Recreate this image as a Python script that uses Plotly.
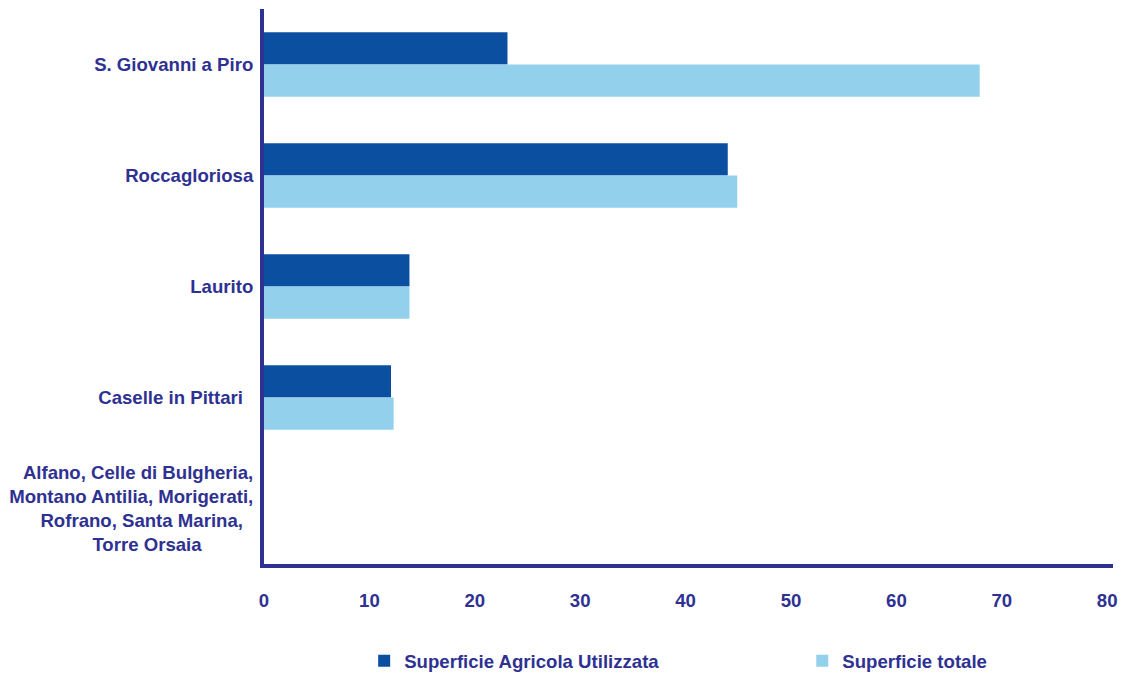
import plotly.graph_objects as go

# Comuni (top to bottom) and surfaces in hectares
comuni = [
    "S. Giovanni a Piro",
    "Roccagloriosa",
    "Laurito",
    "Caselle in Pittari",
    "Alfano, Celle di Bulgheria,<br>Montano Antilia, Morigerati,<br>Rofrano, Santa Marina,<br>Torre Orsaia",
]
sau = [23.1, 44.0, 13.8, 12.05, 0]
sup_totale = [67.9, 44.9, 13.8, 12.3, 0]

x_ticks = [0, 10, 20, 30, 40, 50, 60, 70, 80]

NAVY = "#2E3192"
DARK = "#0B4FA1"
LIGHT = "#93D0EC"
FONT = "Liberation Sans"
FS = 18.6
NB = "\u00a0"

# tick labels: centred look for the stacked label, trailing space on Caselle
ticktext = [
    comuni[0],
    comuni[1],
    comuni[2],
    comuni[3] + NB * 2,
    "Alfano, Celle di Bulgheria,<br>Montano Antilia, Morigerati,<br>Rofrano, Santa Marina," + NB * 2
    + "<br>Torre Orsaia" + NB * 10,
]

fig = go.Figure()
fig.add_trace(go.Bar(
    y=comuni, x=sau, orientation="h", name="Superficie Agricola Utilizzata",
    marker=dict(color=DARK, line=dict(width=0)), legend="legend", showlegend=True,
))
fig.add_trace(go.Bar(
    y=comuni, x=sup_totale, orientation="h", name="Superficie totale",
    marker=dict(color=LIGHT, line=dict(width=0)), legend="legend2", showlegend=True,
))

legend_font = dict(family=FONT, size=FS, color=NAVY, weight="bold")

fig.update_layout(
    width=1123, height=675,
    margin=dict(l=264, r=10, t=9, b=111, autoexpand=False),
    paper_bgcolor="white", plot_bgcolor="white",
    showlegend=True,
    barmode="group", bargap=0.42, bargroupgap=0,
    font=dict(family=FONT, size=FS, color=NAVY, weight="bold"),
    legend=dict(x=0.118, y=-0.175, xanchor="left", yanchor="middle",
                orientation="h", font=legend_font, bgcolor="rgba(0,0,0,0)"),
    legend2=dict(x=0.634, y=-0.175, xanchor="left", yanchor="middle",
                 orientation="h", font=legend_font, bgcolor="rgba(0,0,0,0)"),
    xaxis=dict(
        range=[0, 80.55], tickvals=x_ticks, ticktext=[str(v) for v in x_ticks],
        showgrid=False, zeroline=False, showline=True, linecolor=NAVY, linewidth=4,
        ticks="", ticklabelstandoff=17,
        tickfont=dict(family=FONT, size=FS, color=NAVY, weight="bold"),
    ),
    yaxis=dict(
        categoryorder="array", categoryarray=comuni, autorange="reversed",
        tickvals=comuni, ticktext=ticktext,
        showgrid=False, zeroline=False, showline=True, linecolor=NAVY, linewidth=4,
        ticks="", ticklabelstandoff=3,
        tickfont=dict(family=FONT, size=FS, color=NAVY, weight="bold"),
    ),
)

fig.write_html("out.html")
